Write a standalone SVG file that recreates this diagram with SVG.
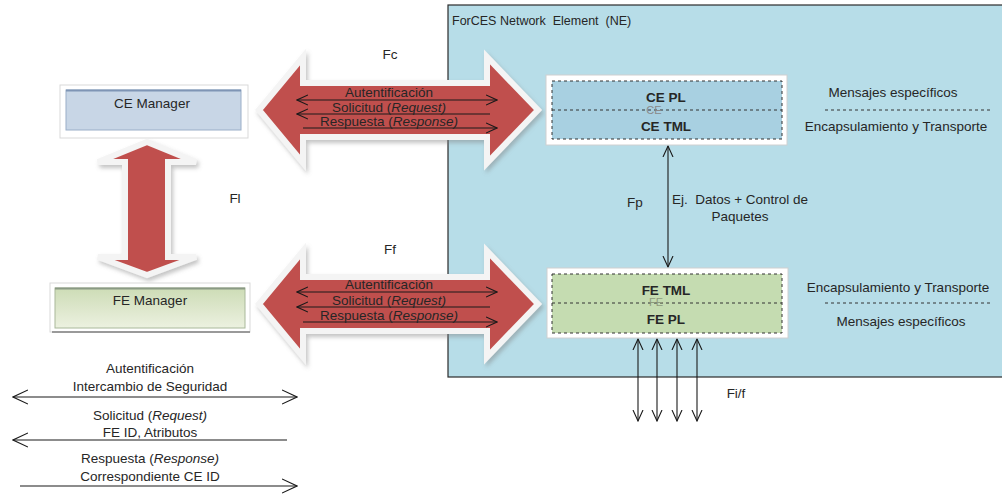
<svg xmlns="http://www.w3.org/2000/svg" width="1002" height="494" viewBox="0 0 1002 494">
  <style>
    text { font-family: "Liberation Sans", Arial, sans-serif; font-size: 13.5px; fill: #262626; }
    .c { text-anchor: middle; }
    .b { font-weight: bold; }
    .ghost { fill: #8a8a8a; font-size: 11px; }
    .big { fill: #c0504d; stroke: #f4f4f4; stroke-width: 6; stroke-linejoin: miter; filter: url(#shadow); }
    .ln { stroke: #1a1a1a; stroke-width: 1.1; fill: none; }
    .dash { stroke: #333; stroke-width: 1; stroke-dasharray: 3 3; fill: none; }
  </style>
  <defs>
    <filter id="shadow" x="-10%" y="-10%" width="120%" height="130%">
      <feDropShadow dx="2" dy="3" stdDeviation="2" flood-color="#7a7a7a" flood-opacity="0.45"/>
    </filter>
    <linearGradient id="feMgr" x1="0" y1="0" x2="0" y2="1">
      <stop offset="0" stop-color="#cddcb6"/>
      <stop offset="1" stop-color="#ecf1e0"/>
    </linearGradient>
    <marker id="ah" viewBox="0 0 12 12" markerWidth="12" markerHeight="12" refX="11" refY="6" orient="auto-start-reverse" markerUnits="userSpaceOnUse">
      <path d="M0,1 L11,6 L0,11" fill="none" stroke="#1a1a1a" stroke-width="1.1"/>
    </marker>
    <marker id="ahL" viewBox="0 0 16 16" markerWidth="16" markerHeight="16" refX="15" refY="8" orient="auto-start-reverse" markerUnits="userSpaceOnUse">
      <path d="M0,1 L15,8 L0,15" fill="none" stroke="#1a1a1a" stroke-width="1.1"/>
    </marker>
  </defs>

  <!-- Network element area -->
  <g id="ne">
    <rect x="448" y="5" width="570" height="372" fill="#b7dde8" stroke="#2b2b2b" stroke-width="1.2"/>
    <text x="452" y="25" xml:space="preserve" style="font-size:12.5px">ForCES Network  Element  (NE)</text>
  </g>

  <!-- Wide interface arrows -->
  <g id="connectors">
    <polygon id="fl-arrow" class="big" points="147,142 196,162 168,162 168,257 196,257 147,275 98,257 125,257 125,162 98,162"/>
    <polygon id="fc-arrow" class="big" points="259,110 303,57 303,83 487,83 487,57 538,110 487,163 487,137 303,137 303,163"/>
    <polygon id="ff-arrow" class="big" points="259,304 303,251 303,277 487,277 487,251 538,304 487,357 487,331 303,331 303,357"/>

    <!-- messages inside Fc -->
    <line class="ln" x1="297" y1="100" x2="497" y2="100" marker-start="url(#ah)" marker-end="url(#ah)"/>
    <line class="ln" x1="490" y1="114" x2="297" y2="114" marker-end="url(#ah)"/>
    <line class="ln" x1="303" y1="128" x2="497" y2="128" marker-end="url(#ah)"/>
    <!-- messages inside Ff -->
    <line class="ln" x1="297" y1="292" x2="497" y2="292" marker-start="url(#ah)" marker-end="url(#ah)"/>
    <line class="ln" x1="490" y1="307" x2="297" y2="307" marker-end="url(#ah)"/>
    <line class="ln" x1="303" y1="322" x2="497" y2="322" marker-end="url(#ah)"/>

    <!-- Fp -->
    <line class="ln" x1="668" y1="146" x2="668" y2="267" marker-start="url(#ah)" marker-end="url(#ah)"/>
    <!-- Fi/f -->
    <line class="ln" x1="638" y1="339" x2="638" y2="421" marker-start="url(#ah)" marker-end="url(#ah)"/>
    <line class="ln" x1="657" y1="339" x2="657" y2="421" marker-start="url(#ah)" marker-end="url(#ah)"/>
    <line class="ln" x1="677" y1="339" x2="677" y2="421" marker-start="url(#ah)" marker-end="url(#ah)"/>
    <line class="ln" x1="697" y1="339" x2="697" y2="421" marker-start="url(#ah)" marker-end="url(#ah)"/>

    <!-- legend -->
    <line class="ln" x1="13" y1="397" x2="297" y2="397" marker-start="url(#ahL)" marker-end="url(#ahL)"/>
    <line class="ln" x1="287" y1="440" x2="13" y2="440" marker-end="url(#ahL)"/>
    <line class="ln" x1="20" y1="486" x2="297" y2="486" marker-end="url(#ahL)"/>
  </g>

  <!-- Labels on the arrows -->
  <g id="labels">
    <text class="c" x="390" y="59">Fc</text>
    <text class="c" x="390" y="254">Ff</text>
    <text class="c" x="235" y="203">Fl</text>

    <text class="c" x="389" y="97">Autentificación</text>
    <text class="c" x="389" y="112">Solicitud (<tspan font-style="italic">Request)</tspan></text>
    <text class="c" x="389" y="126">Respuesta (<tspan font-style="italic">Response)</tspan></text>

    <text class="c" x="389" y="289">Autentificación</text>
    <text class="c" x="389" y="305">Solicitud (<tspan font-style="italic">Request)</tspan></text>
    <text class="c" x="389" y="320">Respuesta (<tspan font-style="italic">Response)</tspan></text>

    <text class="c" x="635" y="207">Fp</text>
    <text class="c" x="740" y="204" xml:space="preserve">Ej.  Datos + Control de</text>
    <text class="c" x="740" y="221">Paquetes</text>
    <text class="c" x="736" y="398">Fi/f</text>
  </g>

  <!-- CE Manager -->
  <g id="ce-manager">
    <rect x="60" y="85" width="188" height="53" fill="#ffffff" stroke="#d9d9d9" stroke-width="1"/>
    <rect x="66" y="90" width="175" height="40" fill="#c8d6e6" stroke="#9aaec8" stroke-width="1"/>
    <line x1="66" y1="90.5" x2="241" y2="90.5" stroke="#7f95b5" stroke-width="2"/>
    <text class="c" x="152" y="108">CE Manager</text>
  </g>

  <!-- FE Manager -->
  <g id="fe-manager">
    <rect x="50" y="283" width="200" height="49" fill="#ffffff" stroke="#d9d9d9" stroke-width="1"/>
    <line x1="52" y1="332" x2="250" y2="332" stroke="#9a9a9a" stroke-width="2"/>
    <rect x="55" y="288" width="190" height="40" fill="url(#feMgr)" stroke="#a9b89a" stroke-width="1"/>
    <line x1="55" y1="288.5" x2="245" y2="288.5" stroke="#8a9a84" stroke-width="2"/>
    <text class="c" x="150" y="305">FE Manager</text>
  </g>

  <!-- Control element -->
  <g id="ce">
    <rect x="546" y="75" width="241" height="70" fill="#ffffff" stroke="#d0d0d0" stroke-width="1"/>
    <rect x="552" y="81" width="230" height="58" style="fill:#a8d0e1"/>
    <rect x="552" y="81" width="230" height="58" class="dash"/>
    <line x1="552" y1="110" x2="782" y2="110" class="dash"/>
    <text class="ghost c" x="654" y="114">CE</text>
    <text class="b c" x="666" y="102">CE PL</text>
    <text class="b c" x="666" y="131">CE TML</text>
  </g>

  <!-- Forwarding element -->
  <g id="fe">
    <rect x="547" y="268" width="241" height="70" fill="#ffffff" stroke="#d0d0d0" stroke-width="1"/>
    <rect x="552" y="274" width="230" height="59" style="fill:#c5dcb1"/>
    <rect x="552" y="274" width="230" height="59" class="dash"/>
    <line x1="552" y1="303" x2="782" y2="303" class="dash"/>
    <text class="ghost c" x="656" y="306" style="fill:#8f9a7c">FE</text>
    <text class="b c" x="666" y="295">FE TML</text>
    <text class="b c" x="666" y="324">FE PL</text>
  </g>

  <!-- Layer notes -->
  <g id="layers-ce">
    <text class="c" x="893" y="97">Mensajes específicos</text>
    <line x1="825" y1="110" x2="990" y2="110" class="dash"/>
    <text class="c" x="896" y="131">Encapsulamiento y Transporte</text>
  </g>
  <g id="layers-fe">
    <text class="c" x="898" y="292">Encapsulamiento y Transporte</text>
    <line x1="825" y1="303" x2="993" y2="303" class="dash"/>
    <text class="c" x="901" y="326">Mensajes específicos</text>
  </g>

  <!-- Legend -->
  <g id="legend">
    <text class="c" x="150" y="373">Autentificación</text>
    <text class="c" x="150" y="391">Intercambio de Seguridad</text>
    <text class="c" x="150" y="420">Solicitud (<tspan font-style="italic">Request)</tspan></text>
    <text class="c" x="150" y="437">FE ID, Atributos</text>
    <text class="c" x="150" y="463">Respuesta (<tspan font-style="italic">Response)</tspan></text>
    <text class="c" x="150" y="481">Correspondiente CE ID</text>
  </g>
</svg>
